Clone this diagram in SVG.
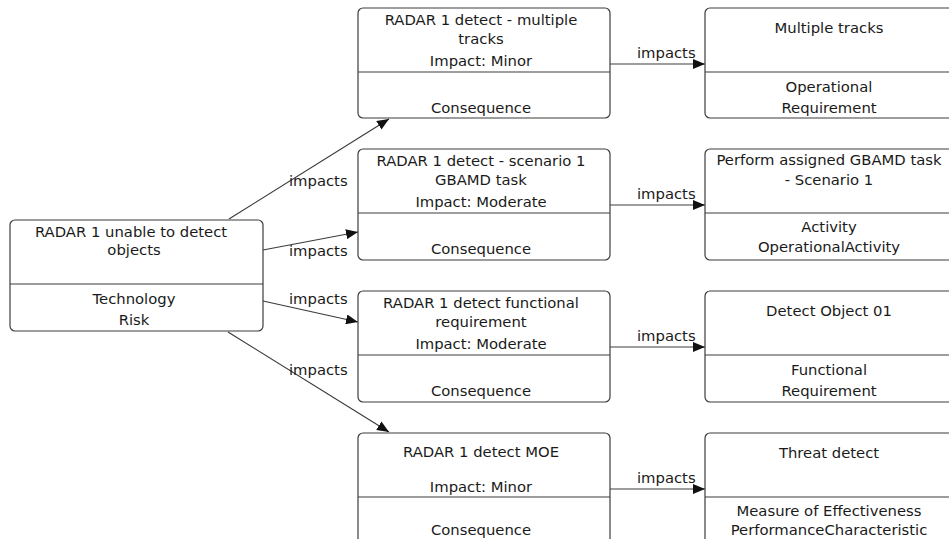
<svg xmlns="http://www.w3.org/2000/svg" width="949" height="539" viewBox="0 0 949 539">
  <style>
    .box { fill: #ffffff; stroke: #3c3c3c; stroke-width: 1.2; }
    .sep { stroke: #3c3c3c; stroke-width: 1.2; }
    .lbl { font-family: "DejaVu Sans", "Liberation Sans", sans-serif; font-size: 14.8px; fill: #1a1a1a; text-anchor: middle; }
    .edge { stroke: #3c3c3c; stroke-width: 1.2; fill: none; marker-end: url(#arrow); }
    .elbl { font-family: "DejaVu Sans", "Liberation Sans", sans-serif; font-size: 14.8px; fill: #1a1a1a; text-anchor: start; }
  </style>
  <defs>
    <marker id="arrow" viewBox="0 0 12 10" refX="12" refY="5" markerWidth="12" markerHeight="10" markerUnits="userSpaceOnUse" orient="auto">
      <path d="M0,0 L12,5 L0,10 Z" fill="#111111"/>
    </marker>
  </defs>
  <rect width="949" height="539" fill="#ffffff"/>

  <!-- connectors -->
  <g id="connectors">
    <line class="edge" x1="229" y1="219" x2="389" y2="119"/>
    <line class="edge" x1="263" y1="250" x2="358" y2="232"/>
    <line class="edge" x1="263" y1="301" x2="358" y2="322"/>
    <line class="edge" x1="228" y1="332" x2="389" y2="432"/>
    <line class="edge" x1="610" y1="64" x2="705" y2="64"/>
    <line class="edge" x1="610" y1="205" x2="705" y2="205"/>
    <line class="edge" x1="610" y1="347" x2="705" y2="347"/>
    <line class="edge" x1="610" y1="489" x2="705" y2="489"/>
    <text class="elbl" x="289" y="186">impacts</text>
    <text class="elbl" x="289" y="256">impacts</text>
    <text class="elbl" x="289" y="304">impacts</text>
    <text class="elbl" x="289" y="375">impacts</text>
    <text class="elbl" x="637" y="58">impacts</text>
    <text class="elbl" x="637" y="199">impacts</text>
    <text class="elbl" x="637" y="341">impacts</text>
    <text class="elbl" x="637" y="483">impacts</text>
  </g>

  <!-- risk -->
  <g id="risk">
    <rect class="box" x="10" y="220" width="253" height="111" rx="5"/>
    <line class="sep" x1="10" y1="284" x2="263" y2="284"/>
    <text class="lbl" x="131" y="237">RADAR 1 unable to detect</text>
    <text class="lbl" x="134" y="255">objects</text>
    <text class="lbl" x="134" y="304">Technology</text>
    <text class="lbl" x="134" y="325">Risk</text>
  </g>

  <!-- consequences -->
  <g id="consequence-tracks">
    <rect class="box" x="358" y="8" width="252" height="110" rx="5"/>
    <line class="sep" x1="358" y1="72" x2="610" y2="72"/>
    <text class="lbl" x="481" y="25">RADAR 1 detect - multiple</text>
    <text class="lbl" x="481" y="44">tracks</text>
    <text class="lbl" x="481" y="66">Impact: Minor</text>
    <text class="lbl" x="481" y="113">Consequence</text>
  </g>
  <g id="consequence-scenario">
    <rect class="box" x="358" y="149" width="252" height="111" rx="5"/>
    <line class="sep" x1="358" y1="213" x2="610" y2="213"/>
    <text class="lbl" x="481" y="166">RADAR 1 detect - scenario 1</text>
    <text class="lbl" x="481" y="185">GBAMD task</text>
    <text class="lbl" x="481" y="207">Impact: Moderate</text>
    <text class="lbl" x="481" y="254">Consequence</text>
  </g>
  <g id="consequence-functional">
    <rect class="box" x="358" y="291" width="252" height="111" rx="5"/>
    <line class="sep" x1="358" y1="355" x2="610" y2="355"/>
    <text class="lbl" x="481" y="308">RADAR 1 detect functional</text>
    <text class="lbl" x="481" y="327">requirement</text>
    <text class="lbl" x="481" y="349">Impact: Moderate</text>
    <text class="lbl" x="481" y="396">Consequence</text>
  </g>
  <g id="consequence-moe">
    <rect class="box" x="358" y="433" width="252" height="111" rx="5"/>
    <line class="sep" x1="358" y1="497" x2="610" y2="497"/>
    <text class="lbl" x="481" y="457">RADAR 1 detect MOE</text>
    <text class="lbl" x="481" y="492">Impact: Minor</text>
    <text class="lbl" x="481" y="535">Consequence</text>
  </g>

  <!-- impacted elements -->
  <g id="req-tracks">
    <rect class="box" x="705" y="8" width="250" height="110" rx="5"/>
    <line class="sep" x1="705" y1="72" x2="955" y2="72"/>
    <text class="lbl" x="829" y="33">Multiple tracks</text>
    <text class="lbl" x="829" y="92">Operational</text>
    <text class="lbl" x="829" y="113">Requirement</text>
  </g>
  <g id="activity-scenario">
    <rect class="box" x="705" y="149" width="250" height="111" rx="5"/>
    <line class="sep" x1="705" y1="213" x2="955" y2="213"/>
    <text class="lbl" x="829" y="165">Perform assigned GBAMD task</text>
    <text class="lbl" x="829" y="185">- Scenario 1</text>
    <text class="lbl" x="829" y="232">Activity</text>
    <text class="lbl" x="829" y="252">OperationalActivity</text>
  </g>
  <g id="req-detect">
    <rect class="box" x="705" y="291" width="250" height="111" rx="5"/>
    <line class="sep" x1="705" y1="355" x2="955" y2="355"/>
    <text class="lbl" x="829" y="316">Detect Object 01</text>
    <text class="lbl" x="829" y="375">Functional</text>
    <text class="lbl" x="829" y="396">Requirement</text>
  </g>
  <g id="moe-threat">
    <rect class="box" x="705" y="433" width="250" height="111" rx="5"/>
    <line class="sep" x1="705" y1="497" x2="955" y2="497"/>
    <text class="lbl" x="829" y="458">Threat detect</text>
    <text class="lbl" x="829" y="516">Measure of Effectiveness</text>
    <text class="lbl" x="829" y="535">PerformanceCharacteristic</text>
  </g>
</svg>
